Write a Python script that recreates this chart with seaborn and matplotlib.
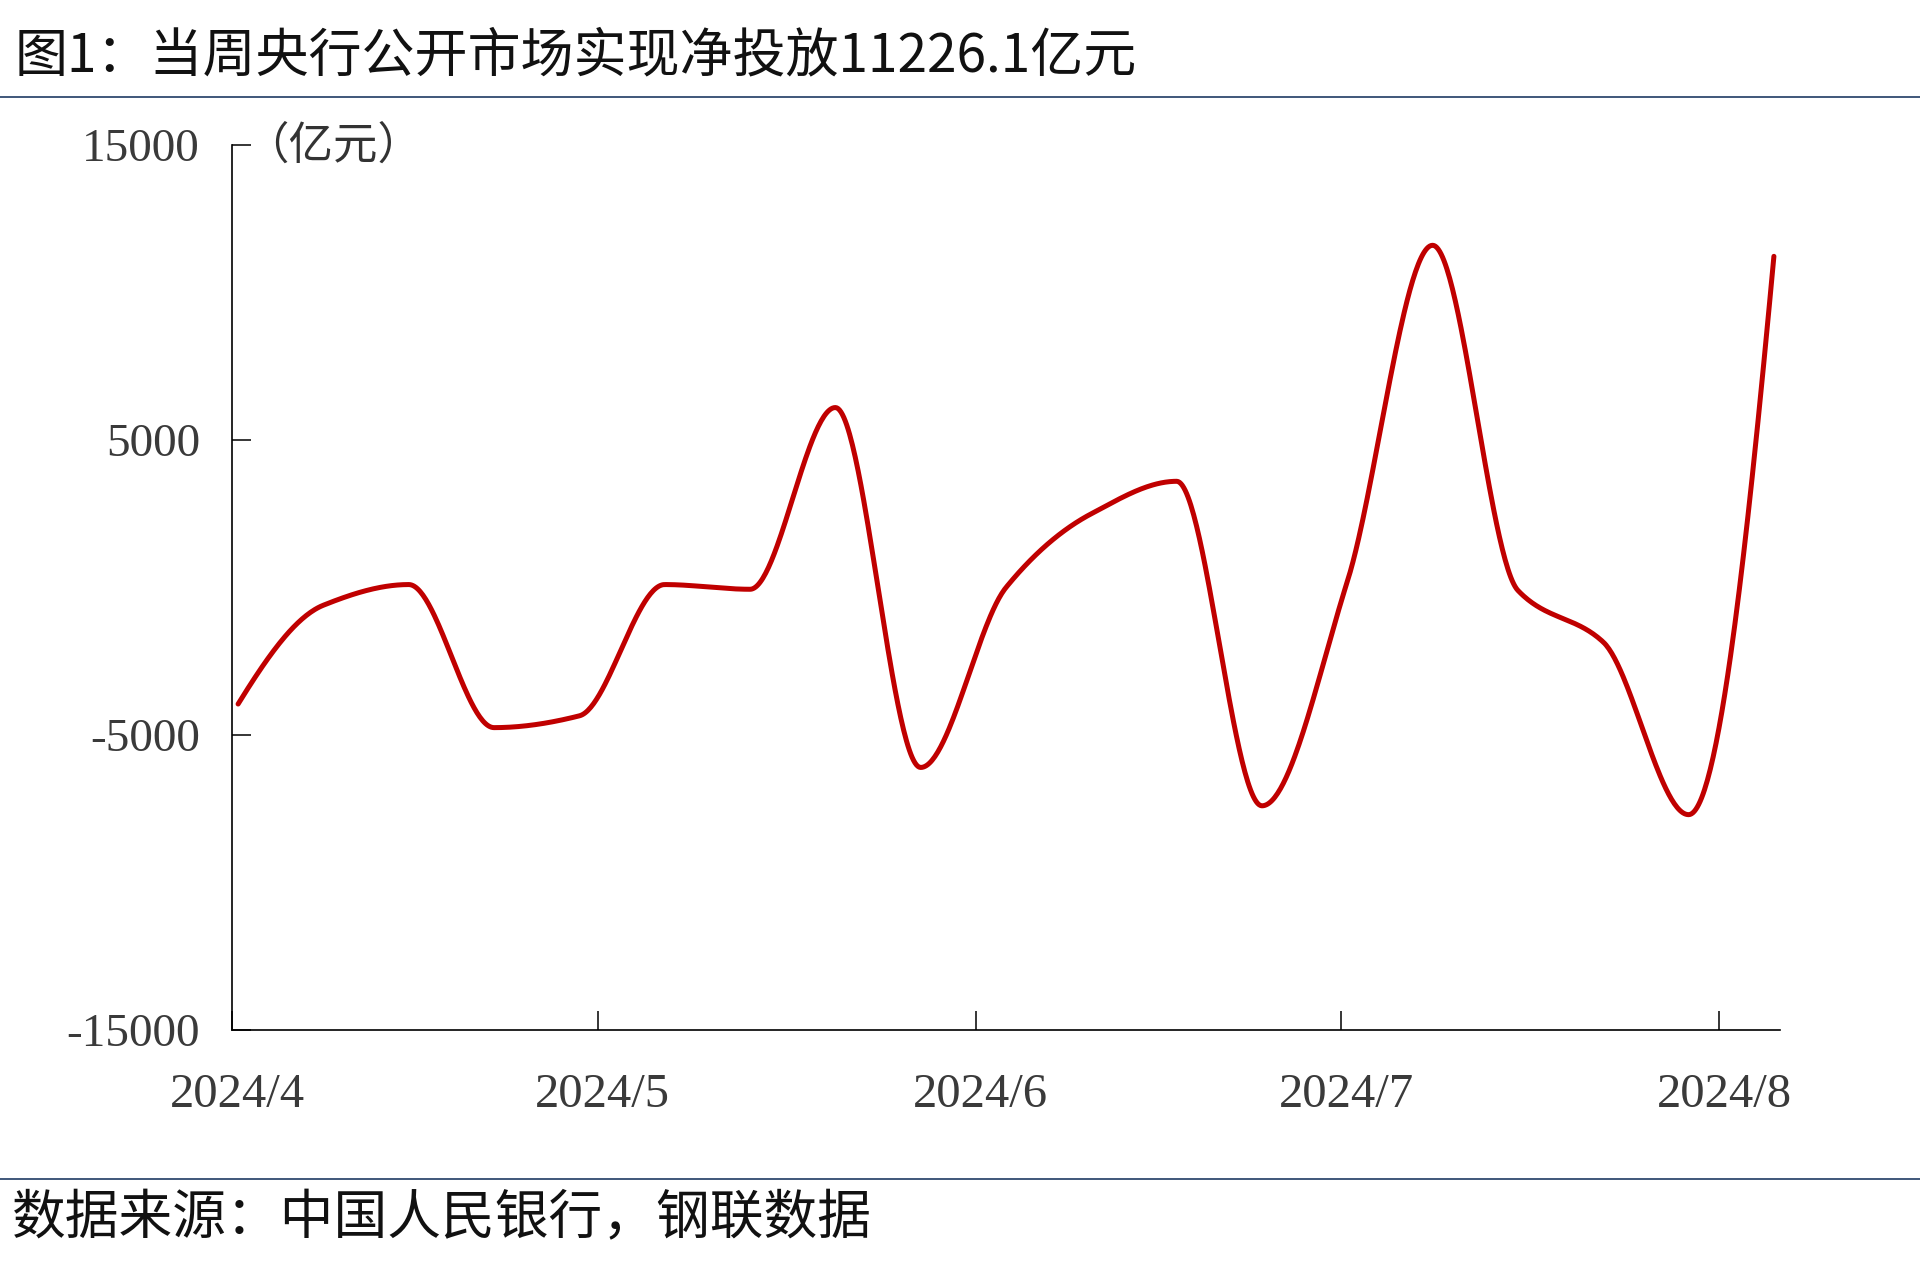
import numpy as np
import pandas as pd
import matplotlib
matplotlib.use("Agg")
import matplotlib.pyplot as plt
import matplotlib.dates as mdates
import matplotlib.transforms as mtransforms
from matplotlib.lines import Line2D
import seaborn as sns

# ---------------- data ----------------
week_dates = pd.date_range("2024-04-01", periods=19, freq="7D")
net_injection = [-3950, -600, 100, -4750, -4350, 100, -60, 6100, -6100, 0,
                 2500, 3600, -7400, 200, 11600, -100, -1850, -7700, 11226.1]
month_ticks = ["2024-04-01", "2024-05-01", "2024-06-01", "2024-07-01", "2024-08-01"]
month_labels = ["2024/4", "2024/5", "2024/6", "2024/7", "2024/8"]
y_ticks = [-15000, -5000, 5000, 15000]
title_text = "图1：当周央行公开市场实现净投放11226.1亿元"
unit_text = "（亿元）"
source_text = "数据来源：中国人民银行，钢联数据"

# ---------------- style ----------------
sns.set_theme(style="ticks")
plt.rcParams["font.family"] = ["Noto Sans CJK SC", "DejaVu Sans"]

fig = plt.figure(figsize=(19.2, 12.79), dpi=100)
fig.patch.set_facecolor("white")
W, H = 1920, 1279
ax = fig.add_axes([232 / W, 1 - 1030 / H, (1780 - 232) / W, (1030 - 145) / H])


def pchip_slopes(x, y):
    h = np.diff(x)
    d = np.diff(y) / h
    n = len(x)
    m = np.zeros(n)
    for k in range(1, n - 1):
        if d[k - 1] * d[k] <= 0:
            m[k] = 0.0
        else:
            w1 = 2 * h[k] + h[k - 1]
            w2 = h[k] + 2 * h[k - 1]
            m[k] = (w1 + w2) / (w1 / d[k - 1] + w2 / d[k])

    def end(h0, h1, d0, d1):
        s = ((2 * h0 + h1) * d0 - h0 * d1) / (h0 + h1)
        if np.sign(s) != np.sign(d0):
            s = 0.0
        elif np.sign(d0) != np.sign(d1) and abs(s) > abs(3 * d0):
            s = 3 * d0
        return s

    m[0] = end(h[0], h[1], d[0], d[1])
    m[-1] = end(h[-1], h[-2], d[-1], d[-2])
    return m


def smooth_curve(x, y, n=60):
    """Shape-preserving smoothed line, used only for drawing between the data points."""
    x = np.asarray(x, float)
    y = np.asarray(y, float)
    m = pchip_slopes(x, y)
    xs, ys = [], []
    for i in range(len(x) - 1):
        hh = x[i + 1] - x[i]
        t = np.linspace(0, 1, n, endpoint=(i == len(x) - 2))
        h00 = 2 * t ** 3 - 3 * t ** 2 + 1
        h10 = t ** 3 - 2 * t ** 2 + t
        h01 = -2 * t ** 3 + 3 * t ** 2
        h11 = t ** 3 - t ** 2
        xs.append(x[i] + t * hh)
        ys.append(h00 * y[i] + h10 * hh * m[i] + h01 * y[i + 1] + h11 * hh * m[i + 1])
    return np.concatenate(xs), np.concatenate(ys)


# points sit in the middle of their day (date axis, between tick marks)
x_num = mdates.date2num(week_dates + pd.Timedelta(hours=12))
sx, sy = smooth_curve(x_num, net_injection)
df = pd.DataFrame({"x": sx, "y": sy})
sns.lineplot(data=df, x="x", y="y", ax=ax, color="#C00000", linewidth=3.6,
             sort=False, estimator=None, solid_capstyle="round")

ax.set_xlim(mdates.date2num(pd.Timestamp("2024-04-01")),
            mdates.date2num(pd.Timestamp("2024-08-06")))
ax.set_ylim(-15000, 15000)
ax.set_xticks(mdates.date2num(pd.to_datetime(month_ticks)))
ax.set_xticklabels(month_labels)
ax.set_yticks(y_ticks)
ax.set_yticklabels([str(v) for v in y_ticks])
ax.set_xlabel("")
ax.set_ylabel("")

for s in ["top", "right"]:
    ax.spines[s].set_visible(False)
for s in ["left", "bottom"]:
    ax.spines[s].set_linewidth(1.2)
    ax.spines[s].set_color("black")

ax.tick_params(axis="both", direction="in", length=13.5, width=1.1, color="black")
ax.tick_params(axis="y", pad=23)
ax.tick_params(axis="x", pad=31)
shift = mtransforms.ScaledTranslation(5 / 100, 0, fig.dpi_scale_trans)
for lab in ax.get_yticklabels():
    lab.set_fontfamily("Liberation Serif")
    lab.set_fontsize(34)
    lab.set_color("#3a3a3a")
for lab in ax.get_xticklabels():
    lab.set_fontfamily("Liberation Serif")
    lab.set_fontsize(35)
    lab.set_color("#3a3a3a")
    lab.set_transform(lab.get_transform() + shift)
ax.set_facecolor("white")
ax.grid(False)

# unit label
fig.text(244 / W, 1 - 146 / H, unit_text, fontsize=32, color="#333333",
         ha="left", va="center")

# title and source
fig.text(15 / W, 1 - 56 / H, title_text, fontsize=38.2, color="#111111",
         ha="left", va="center")
fig.text(12 / W, 1 - 1219 / H, source_text, fontsize=38.7, color="#111111",
         ha="left", va="center")

# rules
for yy in (97, 1179):
    fig.add_artist(Line2D([0, 1], [1 - yy / H, 1 - yy / H], transform=fig.transFigure,
                          color="#1F3B63", linewidth=1.2))

fig.savefig("out.png", dpi=100, facecolor="white")
